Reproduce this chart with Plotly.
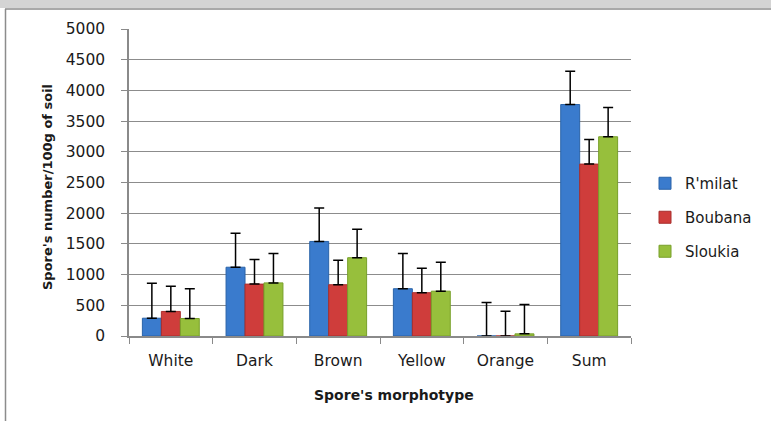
import plotly.graph_objects as go

categories = ["White", "Dark", "Brown", "Yellow", "Orange", "Sum"]
series_names = ["R'milat", "Boubana", "Sloukia"]
rmilat = [290, 1120, 1540, 770, 0, 3770]
boubana = [400, 845, 835, 705, 0, 2800]
sloukia = [285, 865, 1275, 730, 35, 3245]
rmilat_err = [570, 555, 545, 575, 545, 540]
boubana_err = [410, 400, 400, 400, 405, 400]
sloukia_err = [485, 480, 465, 470, 480, 475]
colors = ["#3a7bcd", "#cf3d3b", "#97bf3c"]
edge_colors = ["#2a63a8", "#a82e2c", "#78a02a"]

FONT = "DejaVu Sans"
fig = go.Figure()
for name, vals, errs, c, ec in zip(series_names, [rmilat, boubana, sloukia],
                                   [rmilat_err, boubana_err, sloukia_err], colors, edge_colors):
    fig.add_trace(go.Bar(
        x=categories, y=vals, name=name, legendgroup=name,
        marker=dict(color=c, line=dict(color=ec, width=1)),
        error_y=dict(type="data", array=errs, symmetric=False, arrayminus=[0]*len(errs),
                     color="black", thickness=1.5, width=5),
    ))

W, H = 771, 421
L, R, T, B = 129, 631, 29, 336
def px(x):
    return (x - L) / (R - L)
def py(y):
    return (B - y) / (B - T)

fig.update_layout(
    width=W, height=H,
    margin=dict(l=L, r=W - R, t=T, b=H - B, autoexpand=False),
    paper_bgcolor="white", plot_bgcolor="white",
    barmode="group", bargap=0.32, bargroupgap=0,
    font=dict(family=FONT, size=14, color="#1a1a1a"),
    showlegend=True,
    legend=dict(x=px(645), y=py(167), xanchor="left", yanchor="top",
                font=dict(family=FONT, size=15, color="#1a1a1a"),
                tracegroupgap=11.5, itemwidth=30, bgcolor="rgba(0,0,0,0)"),
    xaxis=dict(showline=True, linecolor="#8a8a8a", linewidth=1.5, automargin=False,
               ticks="outside", tickson="boundaries", ticklen=6, tickcolor="#8a8a8a",
               ticklabelstandoff=10, tickfont=dict(family=FONT, size=15.5)),
    yaxis=dict(range=[0, 5000], dtick=500, showgrid=True, gridcolor="#8c8c8c", gridwidth=1,
               showline=True, linecolor="#8a8a8a", linewidth=1.5, automargin=False,
               ticks="outside", ticklen=6, tickcolor="#8a8a8a", ticklabelstandoff=13,
               tickfont=dict(family=FONT, size=15.5), zeroline=False),
    annotations=[
        dict(text="<b>Spore's number/100g of soil</b>", x=px(47), y=py(187), xref="paper", yref="paper",
             xanchor="center", yanchor="middle",
             textangle=-90, showarrow=False, font=dict(family=FONT, size=13)),
        dict(text="<b>Spore's morphotype</b>", x=px(394), y=py(395), xref="paper", yref="paper",
             xanchor="center", yanchor="middle",
             showarrow=False, font=dict(family=FONT, size=14)),
    ],
    shapes=[
        dict(type="rect", xref="paper", yref="paper", x0=px(0), x1=px(W), y0=py(8), y1=py(0),
             fillcolor="#d4d4d4", line=dict(width=0), layer="below"),
        dict(type="line", xref="paper", yref="paper", x0=px(5), x1=px(W), y0=py(9), y1=py(9),
             line=dict(color="#8c8c8c", width=1.5)),
        dict(type="line", xref="paper", yref="paper", x0=px(5.5), x1=px(5.5), y0=py(9), y1=py(H),
             line=dict(color="#8c8c8c", width=1.5)),
    ],
)

fig.write_html("out.html", config={"displayModeBar": False},
               post_script="document.body.style.margin='0px';")
